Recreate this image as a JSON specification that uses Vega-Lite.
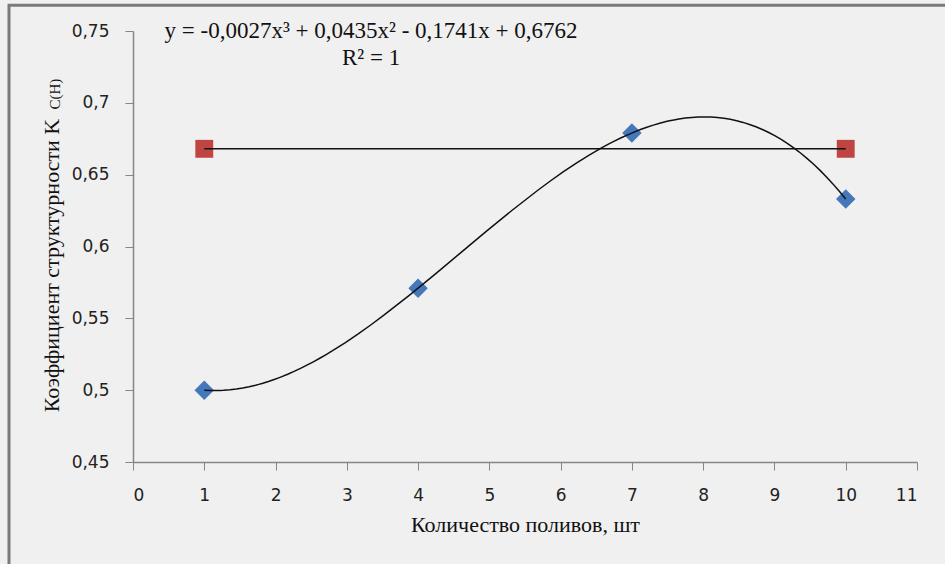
{
  "$schema": "https://vega.github.io/schema/vega-lite/v6.json",
  "autosize": {"type": "none"},
  "padding": {"left": 133, "top": 31, "right": 28, "bottom": 102},
  "width": 784,
  "height": 431,
  "background": "#f0f0f0",
  "config": {
    "view": {"stroke": null},
    "locale": {"number": {"decimal": ",", "thousands": " ", "grouping": [3], "currency": ["", ""]}}
  },
  "datasets": {
    "pts": [
      {"x": 1, "y": 0.5},
      {"x": 4, "y": 0.571},
      {"x": 7, "y": 0.679},
      {"x": 10, "y": 0.633}
    ],
    "ref": [
      {"x": 1, "y": 0.668},
      {"x": 10, "y": 0.668}
    ]
  },
  "layer": [
    {
      "data": {"values": [{"a": 1}]},
      "mark": {"type": "rect", "fill": null, "stroke": "#7a7a7a", "strokeWidth": 3, "clip": false},
      "encoding": {
        "x": {"datum": -1.74, "type": "quantitative", "scale": {"domain": [0, 11], "nice": false, "zero": false}},
        "x2": {"datum": 40},
        "y": {"datum": 0.768, "type": "quantitative", "scale": {"domain": [0.45, 0.75], "nice": false, "zero": false}},
        "y2": {"datum": 0.0}
      }
    },
    {
      "data": {"name": "pts"},
      "mark": {"type": "point", "shape": "diamond", "filled": true, "size": 380, "color": "#4478BB", "opacity": 1},
      "encoding": {
        "x": {
          "field": "x", "type": "quantitative",
          "scale": {"domain": [0, 11], "nice": false, "zero": false},
          "axis": {
            "values": [0,1,2,3,4,5,6,7,8,9,10,11],
            "format": "d",
            "grid": false,
            "domainColor": "#868686",
            "domainWidth": 1.5,
            "tickColor": "#868686",
            "tickWidth": 1,
            "tickSize": 8,
            "labelFont": "DejaVu Sans",
            "labelFontSize": 17,
            "labelColor": "#222222",
            "labelPadding": 17,
            "title": "Количество поливов, шт",
            "titleFont": "Liberation Serif",
            "titleFontSize": 22,
            "titleFontWeight": "normal",
            "titleColor": "#111111",
            "titlePadding": 11
          }
        },
        "y": {
          "field": "y", "type": "quantitative",
          "scale": {"domain": [0.45, 0.75], "nice": false, "zero": false},
          "axis": {
            "values": [0.45, 0.5, 0.55, 0.6, 0.65, 0.7, 0.75],
            "format": ".2~f",
            "grid": false,
            "domainColor": "#868686",
            "domainWidth": 1.5,
            "tickColor": "#868686",
            "tickWidth": 1,
            "tickSize": 8,
            "labelFont": "DejaVu Sans",
            "labelFontSize": 17,
            "labelColor": "#222222",
            "labelPadding": 16,
            "title": "Коэффициент структурности  K",
            "titleFont": "Liberation Serif",
            "titleFontSize": 22,
            "titleFontWeight": "normal",
            "titleColor": "#111111",
            "titleX": -75,
            "titleY": 234,
            "titleBaseline": "alphabetic"
          }
        }
      }
    },
    {
      "data": {"name": "ref"},
      "mark": {"type": "square", "filled": true, "size": 320, "color": "#BE4542", "opacity": 1},
      "encoding": {
        "x": {"field": "x", "type": "quantitative"},
        "y": {"field": "y", "type": "quantitative"}
      }
    },
    {
      "data": {"name": "pts"},
      "transform": [
        {"regression": "y", "on": "x", "method": "poly", "order": 3, "extent": [1, 10]}
      ],
      "mark": {"type": "line", "color": "#111111", "strokeWidth": 1.5},
      "encoding": {
        "x": {"field": "x", "type": "quantitative"},
        "y": {"field": "y", "type": "quantitative"}
      }
    },
    {
      "data": {"name": "ref"},
      "mark": {"type": "line", "color": "#111111", "strokeWidth": 1.5},
      "encoding": {
        "x": {"field": "x", "type": "quantitative"},
        "y": {"field": "y", "type": "quantitative"}
      }
    },
    {
      "data": {"values": [{"label": "y = -0,0027x³ + 0,0435x² - 0,1741x + 0,6762"}]},
      "mark": {"type": "text", "font": "Liberation Serif", "fontSize": 23, "color": "#111111", "align": "center", "baseline": "middle", "clip": false},
      "encoding": {
        "x": {"datum": 3.34, "type": "quantitative"},
        "y": {"datum": 0.7503, "type": "quantitative"},
        "text": {"field": "label"}
      }
    },
    {
      "data": {"values": [{"label": "R² = 1"}]},
      "mark": {"type": "text", "font": "Liberation Serif", "fontSize": 23, "color": "#111111", "align": "center", "baseline": "middle", "clip": false},
      "encoding": {
        "x": {"datum": 3.34, "type": "quantitative"},
        "y": {"datum": 0.731, "type": "quantitative"},
        "text": {"field": "label"}
      }
    },
    {
      "data": {"values": [{"label": "C(H)"}]},
      "mark": {"type": "text", "font": "Liberation Serif", "fontSize": 15, "color": "#111111", "align": "center", "baseline": "alphabetic", "angle": 270, "clip": false},
      "encoding": {
        "x": {"datum": -1.03, "type": "quantitative"},
        "y": {"datum": 0.7061, "type": "quantitative"},
        "text": {"field": "label"}
      }
    }
  ]
}
